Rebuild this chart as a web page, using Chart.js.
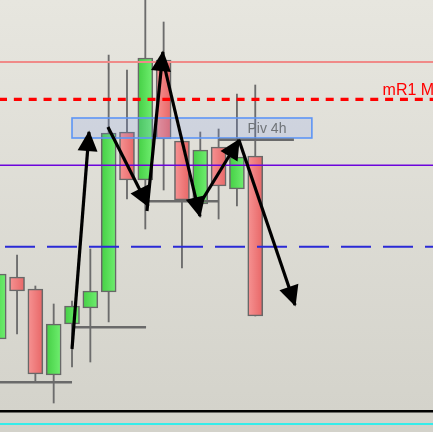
<!DOCTYPE html>
<html><head><meta charset="utf-8">
<script src="https://cdn.jsdelivr.net/npm/chart.js@4.4.1/dist/chart.umd.min.js"></script>
<style>html,body{margin:0;padding:0;overflow:hidden;background:#deddd6}#wrap{width:433px;height:432px}canvas{display:block}</style>
</head><body><div id="wrap"><canvas id="c" width="433" height="432"></canvas></div>
<script>
// ---- candles (x = bar index, prices in chart units) ----
const candleIndex = [-1, 0, 1, 2, 3, 4, 5, 6, 7, 8, 9, 10, 11, 12, 13];
const opens  = [ 93, 155, 143,  57, 108, 124, 140, 300, 252, 372, 291, 228, 285, 243, 276];
const highs  = [162, 177, 146, 128, 131, 183, 377, 362, 437, 410, 291, 300, 303, 338, 347];
const lows   = [ 87,  98,  50,  29,  65,  70, 110, 233, 203, 242, 164, 215, 213, 226, 116];
const closes = [158, 141,  58, 108, 126, 141, 299, 252, 374, 293, 232, 282, 246, 275, 116];

// ---- full-width horizontal levels ----
const levelNames  = ['mR1 monthly', 'weekly high', 'pivot', 'mid', 'day low', 'range low'];
const levelValues = [332.7, 370, 266.7, 185.3, 20.7, 8];

// ---- short support / resistance segments ----
const segStart = [-0.93, 3.11, 7.04, 11.02];
const segEnd   = [ 3.0,  7.04, 11.02, 15.11];
const segLevel = [49.7, 104.7, 230.7, 292.3];

// ---- pivot zone ----
const pivotFrom = [3.0, 294];
const pivotTo   = [16.09, 314];
const pivotLabel = 'Piv 4h';
const pivotLabelX = 13.64;

// ---- level label ----
const levelLabel = 'mR1 M';
const levelLabelX = 19.95;

// ---- swing arrows (from -> to) ----
const arrowFromX = [3.0, 4.96, 7.09, 7.96, 9.87, 12.11];
const arrowFromY = [83, 305, 221, 372, 225, 292];
const arrowToX   = [3.93, 7.15, 7.96, 9.98, 12.11, 15.17];
const arrowToY   = [300, 226, 380, 216, 292, 127];

const X_MIN = -0.93, X_MAX = 22.7;

const lineStyles = [
  {color:'#ff0000', width:3.3, dash:[8,6.85], offset:1},
  {color:'#f08a88', width:1.8, dash:[], offset:0},
  {color:'#6c04dc', width:1.4, dash:[], offset:0},
  {color:'#2a2ad6', width:2, dash:[30,12], offset:37},
  {color:'#000000', width:2.6, dash:[], offset:0},
  {color:'#00f4f4', width:1.3, dash:[], offset:0}
];

const datasets = [];
datasets.push({
  type:'bar', label:'wicks', order:20, grouped:false, barThickness:1.2,
  data: candleIndex.map((x,i)=>({x, y:[lows[i], highs[i]]})),
  backgroundColor:'#6c6c6c', borderWidth:0
});
datasets.push({
  type:'bar', label:'bodies', order:19, grouped:false, barThickness:15,
  data: candleIndex.map((x,i)=>({x, y:[opens[i], closes[i]]})),
  borderColor:'#686868', borderWidth:1.6, borderSkipped:false,
  backgroundColor:(c)=>{
    if (c.type !== 'data') return '#5ae05a';
    const i = c.dataIndex;
    const up = closes[i] >= opens[i];
    const solid = up ? '#5ae05a' : '#f07a7a';
    const xs = c.chart.scales && c.chart.scales.x;
    if (!xs) return solid;
    const cx = xs.getPixelForValue(candleIndex[i]);
    if (!isFinite(cx)) return solid;
    const g = c.chart.ctx.createLinearGradient(cx-7.5,0,cx+7.5,0);
    if (up){ g.addColorStop(0,'#44cf44'); g.addColorStop(1,'#70ee70'); }
    else { g.addColorStop(0,'#f69393'); g.addColorStop(1,'#e86666'); }
    return g;
  }
});
levelValues.forEach((v,k)=>{
  const s = lineStyles[k];
  datasets.push({type:'line', label:levelNames[k], order:10,
    data:[{x:X_MIN,y:v},{x:X_MAX,y:v}],
    borderColor:s.color, borderWidth:s.width, borderDash:s.dash, borderDashOffset:s.offset,
    pointRadius:0, tension:0, fill:false, borderCapStyle:'butt'});
});
segLevel.forEach((v,k)=>{
  datasets.push({type:'line', label:'seg'+k, order:9,
    data:[{x:segStart[k],y:v},{x:segEnd[k],y:v}],
    borderColor:'#6a6a6a', borderWidth:2.6, pointRadius:0, fill:false, borderCapStyle:'butt'});
});
const arrowIdx = [];
arrowFromX.forEach((x,k)=>{
  arrowIdx.push(datasets.length);
  datasets.push({type:'line', label:'arrow'+k, order:1,
    data:[{x, y:arrowFromY[k]},{x:arrowToX[k], y:arrowToY[k]}],
    borderColor:'#000', borderWidth:3.2, pointRadius:0, fill:false, borderCapStyle:'butt'});
});

const bgPlugin = {
  id:'bg',
  beforeDraw(chart){
    const {ctx, width, height} = chart;
    const g = ctx.createLinearGradient(0,0,0,height);
    g.addColorStop(0,'#e7e6df'); g.addColorStop(1,'#d3d2ca');
    ctx.save(); ctx.fillStyle = g; ctx.fillRect(0,0,width,height); ctx.restore();
  },
  afterDatasetDraw(chart, args){
    if (args.index !== 1) return;
    const {ctx} = chart; const xs = chart.scales.x, ys = chart.scales.y;
    const x0 = xs.getPixelForValue(pivotFrom[0]), x1 = xs.getPixelForValue(pivotTo[0]);
    const y0 = ys.getPixelForValue(pivotTo[1]), y1 = ys.getPixelForValue(pivotFrom[1]);
    ctx.save();
    ctx.fillStyle = 'rgba(110,150,250,0.17)';
    ctx.fillRect(x0,y0,x1-x0,y1-y0);
    ctx.strokeStyle = '#5d95f5'; ctx.lineWidth = 1.6;
    ctx.strokeRect(x0,y0,x1-x0,y1-y0);
    ctx.fillStyle = '#707478';
    ctx.font = '14px "Liberation Sans", Arial, sans-serif';
    ctx.textAlign = 'center'; ctx.textBaseline = 'middle';
    ctx.fillText(pivotLabel, xs.getPixelForValue(pivotLabelX), (y0+y1)/2+1);
    ctx.restore();
  },
  afterDatasetsDraw(chart){
    const {ctx} = chart; const xs = chart.scales.x, ys = chart.scales.y;
    ctx.save();
    ctx.fillStyle = '#000';
    arrowIdx.forEach(di=>{
      const pts = chart.getDatasetMeta(di).data;
      const a = pts[0], b = pts[1];
      const ang = Math.atan2(b.y-a.y, b.x-a.x);
      const L = 19, W = 10;
      const c = Math.cos(ang), s = Math.sin(ang);
      ctx.beginPath();
      ctx.moveTo(b.x + c*1.5, b.y + s*1.5);
      ctx.lineTo(b.x - L*c + W*s, b.y - L*s - W*c);
      ctx.lineTo(b.x - L*c - W*s, b.y - L*s + W*c);
      ctx.closePath(); ctx.fill();
    });
    ctx.fillStyle = '#ff0000';
    ctx.font = '16px "Liberation Sans", Arial, sans-serif';
    ctx.textAlign = 'left'; ctx.textBaseline = 'alphabetic';
    ctx.fillText(levelLabel, xs.getPixelForValue(levelLabelX), ys.getPixelForValue(levelValues[0]) - 4);
    ctx.restore();
  }
};

new Chart(document.getElementById('c'), {
  type:'bar',
  data:{datasets},
  options:{
    responsive:false, animation:false, devicePixelRatio:1,
    events:[],
    layout:{padding:0},
    plugins:{legend:{display:false}, tooltip:{enabled:false}},
    scales:{
      x:{type:'linear', min:X_MIN, max:X_MAX, display:false, offset:false},
      y:{type:'linear', min:0, max:432, display:false}
    }
  },
  plugins:[bgPlugin]
});
</script></body></html>
